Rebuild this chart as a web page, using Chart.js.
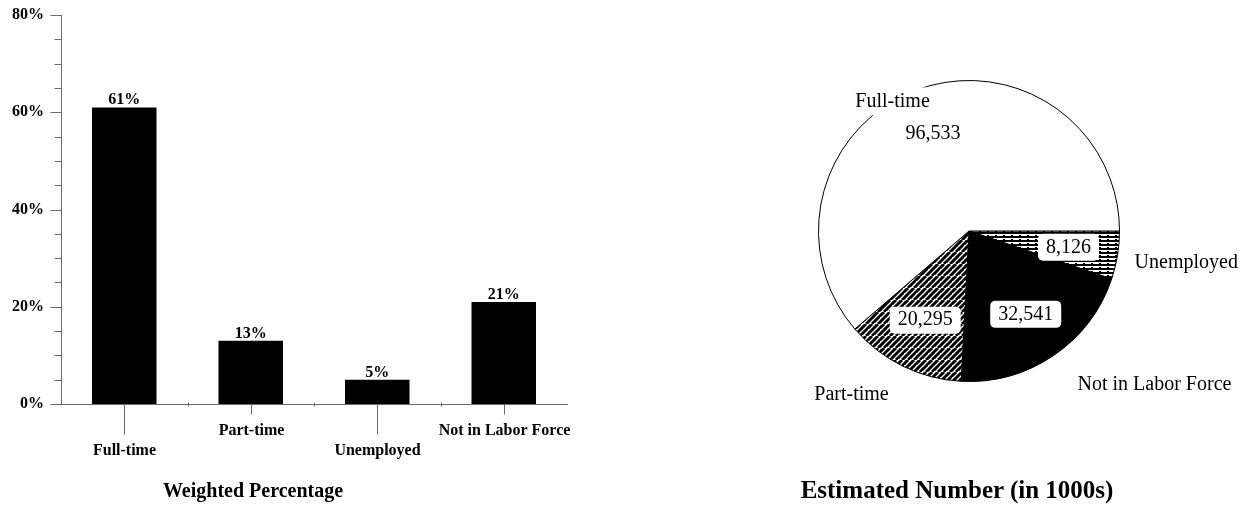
<!DOCTYPE html>
<html>
<head>
<meta charset="utf-8">
<script src="https://cdn.jsdelivr.net/npm/chart.js@4/dist/chart.umd.min.js"></script>
<style>
  html, body { margin: 0; padding: 0; background: #fff; }
  #wrap { position: relative; width: 1253px; height: 510px; overflow: hidden; }
  #barBox { position: absolute; left: 0; top: 0; width: 600px; height: 510px; }
  #pieBox { position: absolute; left: 650px; top: 0; width: 603px; height: 510px; }
  .title {
    position: absolute; white-space: nowrap; transform: translate(-50%, -50%);
    font-family: "Liberation Serif", "Times New Roman", serif; font-weight: bold; color: #000;
  }
</style>
</head>
<body>
<div id="wrap">
  <div id="barBox"><canvas id="bar"></canvas></div>
  <div id="pieBox"><canvas id="pie"></canvas></div>
  <div class="title" style="left:253px; top:490px; font-size:20px">Weighted Percentage</div>
  <div class="title" style="left:957px; top:490px; font-size:25px">Estimated Number (in 1000s)</div>
</div>
<script>
// Employment status: weighted percentage and estimated number (thousands)
const categories = ['Full-time', 'Part-time', 'Unemployed', 'Not in Labor Force'];
const percentValues = [61, 13, 5, 21];
const estimatedThousands = [96533, 20295, 8126, 32541];
const percentTicks = [0, 20, 40, 60, 80];
// pie slices run clockwise from 3 o'clock in this category order
const pieOrder = [2, 3, 1, 0];

const SERIF = '"Liberation Serif", "Times New Roman", serif';
const AXIS = '#6a6a6a';
const MINOR_STEP = 5;

// ---------- bar chart ----------
const barDecor = {
  id: 'barDecor',
  afterDatasetsDraw(chart) {
    const { ctx } = chart;
    const xs = chart.scales.x, ys = chart.scales.y;
    const y0 = Math.round(ys.getPixelForValue(0)) + 0.5;
    const axisX = Math.round(xs.left) + 0.5;
    ctx.save();
    ctx.strokeStyle = AXIS;
    ctx.lineWidth = 1;
    // y tick marks: long at labelled values, short in between
    for (let v = ys.min; v <= ys.max; v += MINOR_STEP) {
      const py = Math.round(ys.getPixelForValue(v)) + 0.5;
      const len = percentTicks.includes(v) ? 11 : 7;
      ctx.beginPath(); ctx.moveTo(axisX - len, py); ctx.lineTo(axisX, py); ctx.stroke();
    }
    // category ticks, staggered labels
    ctx.fillStyle = '#000';
    ctx.font = 'bold 16px ' + SERIF;
    ctx.textAlign = 'center';
    ctx.textBaseline = 'middle';
    categories.forEach((c, i) => {
      const px = Math.round(xs.getPixelForValue(i)) + 0.5;
      const low = i % 2 === 0;
      ctx.beginPath(); ctx.moveTo(px, y0); ctx.lineTo(px, y0 + (low ? 30 : 10)); ctx.stroke();
      ctx.fillText(c, px, y0 + (low ? 46 : 26));
      if (i > 0) {
        const bx = Math.round((xs.getPixelForValue(i - 1) + xs.getPixelForValue(i)) / 2) + 0.5;
        ctx.beginPath(); ctx.moveTo(bx, y0 - 2); ctx.lineTo(bx, y0 + 2); ctx.stroke();
      }
    });
    // value labels above bars
    ctx.textBaseline = 'alphabetic';
    const meta = chart.getDatasetMeta(0);
    meta.data.forEach((bar, i) => {
      ctx.fillText(percentValues[i] + '%', bar.x, bar.y - 3);
    });
    ctx.restore();
  }
};

new Chart(document.getElementById('bar'), {
  type: 'bar',
  data: {
    labels: categories,
    datasets: [{
      data: percentValues,
      backgroundColor: '#000',
      borderWidth: 0,
      barPercentage: 0.51,
      categoryPercentage: 1
    }]
  },
  options: {
    responsive: true,
    maintainAspectRatio: false,
    animation: false,
    layout: { padding: { left: 0, right: 33, top: 15, bottom: 0 } },
    plugins: { legend: { display: false }, tooltip: { enabled: false } },
    scales: {
      x: {
        offset: true,
        grid: { display: false },
        border: { color: AXIS, width: 1 },
        ticks: { display: false },
        afterFit(s) { s.height = 106; s.paddingLeft = 0; s.paddingRight = 0; }
      },
      y: {
        min: percentTicks[0],
        max: percentTicks[percentTicks.length - 1],
        afterBuildTicks(s) { s.ticks = percentTicks.map(v => ({ value: v })); },
        grid: { display: false, drawTicks: false },
        border: { color: AXIS, width: 1 },
        ticks: {
          padding: 17,
          color: '#000',
          font: { family: SERIF, size: 16, weight: 'bold' },
          callback: v => v + '%'
        },
        afterFit(s) { s.width = 61; s.paddingTop = 0; s.paddingBottom = 0; }
      }
    }
  },
  plugins: [barDecor]
});

// ---------- pie chart ----------
function diagonalHatch() {
  const c = document.createElement('canvas');
  c.width = 12; c.height = 12;
  const g = c.getContext('2d');
  g.fillStyle = '#fff'; g.fillRect(0, 0, 12, 12);
  g.strokeStyle = '#000'; g.lineWidth = 3;
  g.beginPath();
  for (let k = -12; k <= 24; k += 6) { g.moveTo(k, 12); g.lineTo(k + 12, 0); }
  g.stroke();
  // small breaks in the strokes
  g.fillStyle = '#fff';
  g.fillRect(2, 5, 2, 1);
  g.fillRect(8, 11, 2, 1);
  return g.createPattern(c, 'repeat');
}
function horizontalHatch() {
  const c = document.createElement('canvas');
  c.width = 8; c.height = 4;
  const g = c.getContext('2d');
  g.fillStyle = '#fff'; g.fillRect(0, 0, 8, 4);
  g.fillStyle = '#000'; g.fillRect(0, 0, 8, 2);
  g.fillRect(1, 3, 2, 1);
  return g.createPattern(c, 'repeat');
}
const sliceFill = {
  'Full-time': '#fff',
  'Part-time': diagonalHatch(),
  'Unemployed': horizontalHatch(),
  'Not in Labor Force': '#000'
};
// outer name labels: angle shift from slice middle (deg), radius factor, alignment
const nameLabelStyle = {
  'Full-time': { shift: -10.2, rf: 1.0, align: 'center', box: true },
  'Part-time': { shift: 0, rf: 1.21, align: 'right', box: false },
  'Unemployed': { shift: 1.5, rf: 1.12, align: 'left', box: false },
  'Not in Labor Force': { shift: -1, rf: 1.25, align: 'left', box: false }
};
const valueRadius = { 'Full-time': 0.69, 'Part-time': 0.66, 'Unemployed': 0.67, 'Not in Labor Force': 0.67 };

const pieLabels = pieOrder.map(i => categories[i]);
const pieValues = pieOrder.map(i => estimatedThousands[i]);

function roundRect(ctx, x, y, w, h, r) {
  ctx.beginPath();
  ctx.moveTo(x + r, y);
  ctx.arcTo(x + w, y, x + w, y + h, r);
  ctx.arcTo(x + w, y + h, x, y + h, r);
  ctx.arcTo(x, y + h, x, y, r);
  ctx.arcTo(x, y, x + w, y, r);
  ctx.closePath();
}

const pieDecor = {
  id: 'pieDecor',
  afterDatasetsDraw(chart) {
    const { ctx } = chart;
    const meta = chart.getDatasetMeta(0);
    ctx.save();
    ctx.font = '20px ' + SERIF;
    ctx.textBaseline = 'middle';
    meta.data.forEach((arc, i) => {
      const name = pieLabels[i];
      const { x, y, startAngle, endAngle, outerRadius } =
        arc.getProps(['x', 'y', 'startAngle', 'endAngle', 'outerRadius'], true);
      const mid = (startAngle + endAngle) / 2;

      // value label in a white rounded box
      const txt = pieValues[i].toLocaleString('en-US');
      const vr = valueRadius[name] * outerRadius;
      const vx = x + Math.cos(mid) * vr, vy = y + Math.sin(mid) * vr;
      const w = ctx.measureText(txt).width;
      if (name !== 'Full-time') {
        ctx.fillStyle = '#fff';
        roundRect(ctx, vx - w / 2 - 8, vy - 13.5, w + 16, 27, 5);
        ctx.fill();
      }
      ctx.fillStyle = '#000';
      ctx.textAlign = 'center';
      ctx.fillText(txt, vx, vy);

      // category name outside / on the rim
      const st = nameLabelStyle[name];
      const a = mid + st.shift * Math.PI / 180;
      const nx = x + Math.cos(a) * st.rf * outerRadius;
      const ny = y + Math.sin(a) * st.rf * outerRadius;
      const nw = ctx.measureText(name).width;
      if (st.box) {
        ctx.fillStyle = '#fff';
        ctx.fillRect(nx - nw / 2 - 6, ny - 14, nw + 12, 28);
      }
      ctx.fillStyle = '#000';
      ctx.textAlign = st.align;
      ctx.fillText(name, nx, ny);
    });
    ctx.restore();
  }
};

new Chart(document.getElementById('pie'), {
  type: 'pie',
  data: {
    labels: pieLabels,
    datasets: [{
      data: pieValues,
      backgroundColor: pieLabels.map(n => sliceFill[n]),
      borderColor: '#000',
      borderWidth: 1
    }]
  },
  options: {
    responsive: true,
    maintainAspectRatio: false,
    animation: false,
    rotation: 90,
    layout: { padding: { left: 168, top: 80, right: 133, bottom: 128 } },
    plugins: { legend: { display: false }, tooltip: { enabled: false } }
  },
  plugins: [pieDecor]
});
</script>
</body>
</html>
